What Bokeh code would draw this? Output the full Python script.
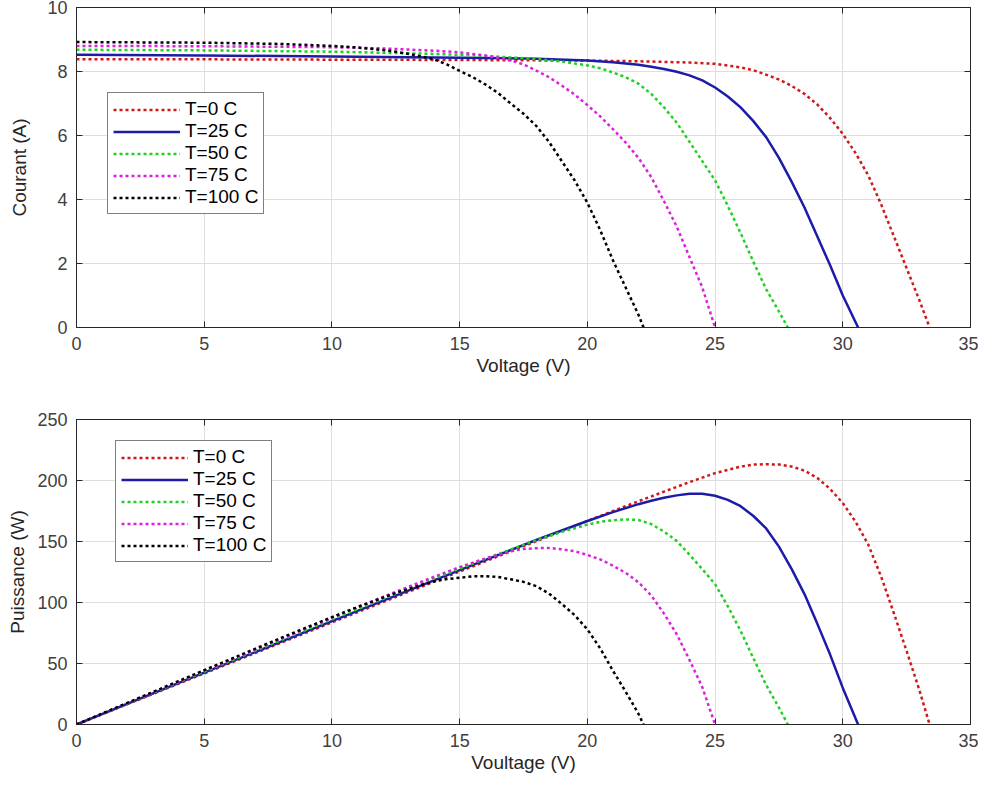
from bokeh.plotting import figure
from bokeh.layouts import column
from bokeh.models import Legend, LegendItem, LinearAxis, Range1d, FixedTicker
from bokeh.embed import file_html
from bokeh.resources import INLINE

# ---- data ----
labels = ["T=0 C", "T=25 C", "T=50 C", "T=75 C", "T=100 C"]
colors = ["#d01818", "#1c1ca8", "#20d020", "#dd20dd", "#000000"]
dashes = ["3 3", "solid", "3 3", "3 3", "3 3"]

V0 = [0, 5, 10, 15, 20, 22, 24, 25, 26, 26.5, 27, 27.5, 28, 28.5, 29, 29.5, 30, 30.5, 31, 31.5, 32, 32.5, 33, 33.4]
I0 = [8.38, 8.38, 8.37, 8.36, 8.34, 8.32, 8.28, 8.24, 8.13, 8.04, 7.90, 7.75, 7.55, 7.30, 6.97, 6.55, 6.05, 5.45, 4.75, 3.85, 2.85, 1.85, 0.85, 0]
P0 = [0, 41.9, 83.7, 125.4, 166.8, 183.0, 198.7, 206.0, 211.4, 213.1, 213.3, 213.1, 211.4, 208.1, 202.1, 193.2, 181.5, 166.2, 147.3, 121.3, 91.2, 60.1, 28.1, 0]

V25 = [0, 5, 10, 15, 18, 20, 21, 22, 22.5, 23, 23.5, 24, 24.5, 25, 25.5, 26, 26.5, 27, 27.5, 28, 28.5, 29, 29.5, 30, 30.6]
I25 = [8.52, 8.50, 8.47, 8.43, 8.40, 8.34, 8.29, 8.21, 8.15, 8.08, 7.99, 7.88, 7.72, 7.50, 7.22, 6.88, 6.45, 5.95, 5.30, 4.55, 3.75, 2.85, 1.95, 1.0, 0]
P25 = [0, 42.5, 84.7, 126.5, 151.2, 166.8, 174.1, 180.6, 183.4, 185.8, 187.8, 189.1, 189.1, 187.5, 184.1, 178.9, 170.9, 160.7, 145.8, 127.4, 106.9, 82.7, 57.5, 30.0, 0]

V50 = [0, 5, 10, 14, 16, 18, 19, 20, 20.5, 21, 21.5, 22, 22.5, 23, 23.5, 24, 24.5, 25, 25.5, 26, 26.5, 27, 27.5, 27.85]
I50 = [8.68, 8.66, 8.62, 8.55, 8.49, 8.39, 8.31, 8.19, 8.10, 7.97, 7.82, 7.62, 7.30, 6.88, 6.40, 5.80, 5.20, 4.60, 3.80, 2.95, 2.05, 1.20, 0.50, 0]
P50 = [0, 43.3, 86.2, 119.7, 135.8, 151.0, 157.9, 163.8, 166.1, 167.4, 168.1, 167.6, 164.3, 158.2, 150.4, 139.2, 127.4, 115.0, 96.9, 76.7, 54.3, 32.4, 13.8, 0]

V75 = [0, 5, 10, 12, 14, 15, 16, 17, 17.5, 18, 18.5, 19, 19.5, 20, 20.5, 21, 21.5, 22, 22.5, 23, 23.5, 24, 24.5, 25]
I75 = [8.80, 8.79, 8.76, 8.72, 8.65, 8.60, 8.50, 8.35, 8.22, 8.03, 7.82, 7.56, 7.28, 6.95, 6.60, 6.20, 5.78, 5.30, 4.70, 3.95, 3.15, 2.20, 1.25, 0]
P75 = [0, 44.0, 87.6, 104.6, 121.1, 129.0, 136.0, 142.0, 143.9, 144.5, 144.7, 143.6, 142.0, 139.0, 135.3, 130.2, 124.3, 116.6, 105.8, 90.9, 74.0, 52.8, 30.6, 0]

V100 = [0, 5, 8, 10, 11, 12, 12.5, 13, 13.5, 14, 14.5, 15, 15.5, 16, 16.5, 17, 17.5, 18, 18.5, 19, 19.5, 20, 20.5, 21, 21.5, 22, 22.2]
I100 = [8.92, 8.90, 8.86, 8.80, 8.75, 8.67, 8.62, 8.55, 8.47, 8.38, 8.22, 8.02, 7.83, 7.60, 7.33, 7.00, 6.68, 6.30, 5.80, 5.20, 4.60, 3.90, 3.05, 2.10, 1.25, 0.40, 0]
P100 = [0, 44.5, 70.9, 88.0, 96.3, 104.0, 107.8, 111.2, 114.3, 117.3, 119.2, 120.3, 121.4, 121.6, 120.9, 119.0, 116.9, 113.4, 107.3, 98.8, 89.7, 78.0, 62.5, 44.1, 26.9, 8.8, 0]

x_ticks = [0, 5, 10, 15, 20, 25, 30, 35]
y_ticks_top = [0, 2, 4, 6, 8, 10]
y_ticks_bot = [0, 50, 100, 150, 200, 250]

V_all = [V0, V25, V50, V75, V100]
I_all = [I0, I25, I50, I75, I100]
P_all = [P0, P25, P50, P75, P100]

FONT = "Liberation Sans"
TICK_COL = "#404040"
AX_COL = "#262626"


def style_axis(ax, ticks, show_labels=True):
    ax.ticker = FixedTicker(ticks=ticks)
    ax.major_tick_in = 6
    ax.major_tick_out = 0
    ax.minor_tick_line_color = None
    ax.axis_line_color = AX_COL
    ax.major_tick_line_color = AX_COL
    ax.major_label_text_font = FONT
    ax.major_label_text_color = TICK_COL
    if show_labels:
        ax.major_label_text_font_size = "18px"
    else:
        ax.major_label_text_font_size = "0px"
        ax.major_label_standoff = 0


def make_fig(height, ymax, yticks, ylab, xlab, yvals, borders, leg_loc, ylab_standoff):
    p = figure(width=978, height=height, output_backend="svg", toolbar_location=None,
               x_range=Range1d(0, 35), y_range=Range1d(0, ymax),
               min_border_left=borders[0], min_border_right=borders[1],
               min_border_top=borders[2], min_border_bottom=borders[3])
    p.outline_line_color = AX_COL
    p.outline_line_width = 1
    p.xgrid.grid_line_color = "#dedede"
    p.ygrid.grid_line_color = "#dedede"
    p.xgrid.ticker = FixedTicker(ticks=x_ticks)
    p.ygrid.ticker = FixedTicker(ticks=yticks)

    style_axis(p.xaxis[0], x_ticks)
    style_axis(p.yaxis[0], yticks)
    p.xaxis[0].major_label_standoff = 9
    p.yaxis[0].major_label_standoff = 9
    p.xaxis[0].axis_label = xlab
    p.yaxis[0].axis_label = ylab
    for ax in (p.xaxis[0], p.yaxis[0]):
        ax.axis_label_text_font = FONT
        ax.axis_label_text_font_style = "normal"
        ax.axis_label_text_font_size = "19px"
        ax.axis_label_text_color = AX_COL
    p.xaxis[0].axis_label_standoff = 2
    p.yaxis[0].axis_label_standoff = ylab_standoff

    ra = LinearAxis()
    style_axis(ra, yticks, show_labels=False)
    p.add_layout(ra, "right")
    ta = LinearAxis()
    style_axis(ta, x_ticks, show_labels=False)
    p.add_layout(ta, "above")

    items = []
    for lab, col, dash, vv, yy in zip(labels, colors, dashes, V_all, yvals):
        r = p.line(vv, yy, line_color=col, line_width=2.5, line_dash=dash)
        items.append(LegendItem(label=lab, renderers=[r]))
    leg = Legend(items=items, location=leg_loc, margin=0, padding=5, spacing=0,
                 label_height=21, glyph_height=21, glyph_width=67, label_standoff=5,
                 label_text_font=FONT, label_text_font_size="19px", label_text_color="#000000",
                 border_line_color="#000000", border_line_width=1, background_fill_alpha=1.0)
    p.add_layout(leg, "center")
    return p


p1 = make_fig(390, 10, y_ticks_top, "Courant (A)", "Voltage (V)", I_all,
              (74, 6, 7, 63), (31, 113), 14)
p2 = make_fig(385, 250, y_ticks_bot, "Puissance (W)", "Voultage (V)", P_all,
              (76, 8, 29, 48), (39, 162), 6)

layout = column(p1, p2, spacing=0)
open("out.html", "w").write(file_html(layout, INLINE))
